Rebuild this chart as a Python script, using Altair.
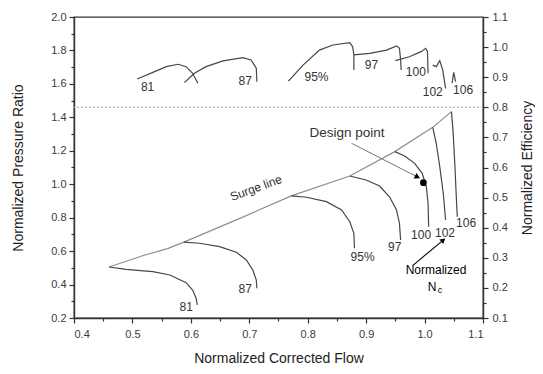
import altair as alt
import pandas as pd

# ---------------- data ----------------
speed_names = ["81", "87", "95%", "97", "100", "102", "106"]

# pressure-ratio speed lines (left axis)
pr_flow = [
    [0.460, 0.489, 0.535, 0.564, 0.592, 0.603, 0.609, 0.611],
    [0.588, 0.615, 0.649, 0.678, 0.695, 0.706, 0.712, 0.713],
    [0.772, 0.798, 0.832, 0.858, 0.872, 0.879, 0.880],
    [0.872, 0.900, 0.923, 0.940, 0.952, 0.957, 0.959],
    [0.949, 0.966, 0.983, 0.996, 1.003, 1.006, 1.007],
    [1.014, 1.020, 1.026, 1.032, 1.036],
    [1.046, 1.049, 1.052, 1.054, 1.056],
]
pr_vals = [
    [0.505, 0.491, 0.477, 0.457, 0.411, 0.367, 0.318, 0.278],
    [0.654, 0.647, 0.627, 0.593, 0.547, 0.487, 0.427, 0.378],
    [0.930, 0.922, 0.896, 0.846, 0.776, 0.706, 0.617],
    [1.049, 1.025, 0.989, 0.925, 0.846, 0.766, 0.666],
    [1.195, 1.169, 1.125, 1.065, 0.985, 0.886, 0.746],
    [1.340, 1.245, 1.105, 0.946, 0.786],
    [1.434, 1.304, 1.105, 0.946, 0.806],
]
pr_label_flow = [0.592, 0.693, 0.894, 0.949, 0.994, 1.035, 1.071]
pr_label_val = [0.264, 0.373, 0.567, 0.627, 0.696, 0.706, 0.766]

surge_flow = [0.460, 0.520, 0.560, 0.588, 0.680, 0.772, 0.872, 0.949, 1.014, 1.046]
surge_pr = [0.505, 0.575, 0.615, 0.654, 0.790, 0.930, 1.049, 1.195, 1.340, 1.434]

# efficiency lines (right axis)
eff_flow = [
    [0.508, 0.535, 0.558, 0.578, 0.592, 0.603, 0.612],
    [0.589, 0.606, 0.626, 0.655, 0.689, 0.703, 0.712, 0.713],
    [0.767, 0.792, 0.820, 0.843, 0.872, 0.877, 0.879, 0.879],
    [0.879, 0.906, 0.935, 0.952, 0.957, 0.959, 0.960],
    [0.950, 0.974, 0.994, 1.002, 1.005, 1.006],
    [1.014, 1.020, 1.026, 1.031, 1.036],
    [1.047, 1.050, 1.053],
]
eff_vals = [
    [0.894, 0.916, 0.935, 0.943, 0.935, 0.913, 0.880],
    [0.882, 0.913, 0.935, 0.954, 0.965, 0.957, 0.930, 0.885],
    [0.887, 0.940, 0.990, 1.007, 1.015, 1.001, 0.974, 0.924],
    [0.974, 0.979, 0.990, 1.004, 0.996, 0.957, 0.924],
    [0.955, 0.968, 0.985, 0.996, 0.985, 0.913],
    [0.940, 0.935, 0.955, 0.924, 0.863],
    [0.880, 0.916, 0.885],
]
eff_label_flow = [0.526, 0.693, 0.815, 0.909, 0.985, 1.014, 1.066]
eff_label_val = [0.868, 0.888, 0.902, 0.940, 0.918, 0.852, 0.857]

efficiency_ref = 0.8          # dotted reference line (right axis)
design_flow, design_pr = 0.998, 1.009
design_arrow_flow = [0.875, 0.988]
design_arrow_pr = [1.245, 1.043]
nc_arrow_flow = [0.980, 1.032]
nc_arrow_pr = [0.515, 0.666]

x_major = [round(0.4 + 0.1 * i, 1) for i in range(8)]
x_minor = [round(0.45 + 0.1 * i, 2) for i in range(7)]
yl_major = [round(0.2 + 0.2 * i, 1) for i in range(10)]
yl_minor = [round(0.3 + 0.2 * i, 1) for i in range(9)]
yr_major = [round(0.1 + 0.1 * i, 1) for i in range(11)]
yr_minor = [round(0.15 + 0.1 * i, 2) for i in range(10)]

# ---------------- tables ----------------
def lines_df(flows, vals, names):
    rows = []
    for name, fs, vs in zip(names, flows, vals):
        for i, (f, v) in enumerate(zip(fs, vs)):
            rows.append({"line": name, "flow": f, "val": v, "ord": i})
    return pd.DataFrame(rows)

pr_df = lines_df(pr_flow, pr_vals, speed_names)
eff_df = lines_df(eff_flow, eff_vals, speed_names)
surge_df = pd.DataFrame({"flow": surge_flow, "val": surge_pr, "ord": range(len(surge_flow))})
pr_lab = pd.DataFrame({"t": speed_names, "flow": pr_label_flow, "val": pr_label_val})
eff_lab = pd.DataFrame({"t": speed_names, "flow": eff_label_flow, "val": eff_label_val})
design_df = pd.DataFrame({"flow": [design_flow], "val": [design_pr]})
darrow = pd.DataFrame({"flow": design_arrow_flow, "val": design_arrow_pr, "ord": [0, 1]})
narrow = pd.DataFrame({"flow": nc_arrow_flow, "val": nc_arrow_pr, "ord": [0, 1]})

FONT = "Liberation Sans"
LINE = "#464646"

xs = alt.Scale(domain=[0.4, 1.1], nice=False, zero=False)
yls = alt.Scale(domain=[0.2, 2.0], nice=False, zero=False)
yrs = alt.Scale(domain=[0.1, 1.1], nice=False, zero=False)

x_axis = alt.Axis(values=x_major, format=".1f", title="Normalized Corrected Flow", grid=False,
                  tickSize=5, labelPadding=5, titleY=40, titleBaseline="middle", orient="bottom")
yl_axis = alt.Axis(values=yl_major, format=".1f", title="Normalized Pressure Ratio", grid=False,
                   orient="left", tickSize=5, labelPadding=3, titleX=-56, titleBaseline="middle",
                   titleAngle=270)
yr_axis = alt.Axis(values=yr_major, format=".1f", title="Normalized Efficiency", grid=False,
                   orient="right", tickSize=5, labelPadding=4, titleX=44, titleBaseline="middle",
                   titleAngle=270)

def minor(vals, orient):
    return alt.Axis(values=vals, labels=False, title=None, grid=False, domain=False,
                    tickSize=3, orient=orient)

X = lambda ax=None: alt.X("flow:Q", scale=xs, axis=ax)
YL = lambda ax=None: alt.Y("val:Q", scale=yls, axis=ax)
YR = lambda ax=None: alt.Y("val:Q", scale=yrs, axis=ax)

surge = alt.Chart(surge_df).mark_line(color="#8f8f8f", strokeWidth=1.2).encode(
    x=X(x_axis), y=YL(yl_axis), order="ord:Q")
effs = alt.Chart(eff_df).mark_line(color=LINE, strokeWidth=1.2).encode(
    x=X(), y=YR(yr_axis), detail="line:N", order="ord:Q")
minor_x = alt.Chart(design_df).mark_point(opacity=0).encode(x=X(minor(x_minor, "bottom")), y=YL())
minor_yl = alt.Chart(design_df).mark_point(opacity=0).encode(x=X(), y=YL(minor(yl_minor, "left")))
minor_yr = alt.Chart(design_df).mark_point(opacity=0).encode(x=X(), y=YR(minor(yr_minor, "right")))

speeds = alt.Chart(pr_df).mark_line(color=LINE, strokeWidth=1.2).encode(
    x=X(), y=YL(), detail="line:N", order="ord:Q")
pr_text = alt.Chart(pr_lab).mark_text(font=FONT, fontSize=12, color="#333").encode(
    x=X(), y=YL(), text="t:N")
dpoint = alt.Chart(design_df).mark_point(filled=True, color="black", size=45, opacity=1).encode(
    x=X(), y=YL())
dtext = alt.Chart(design_df).mark_text(font=FONT, fontSize=13.5, color="#333", text="Design point").encode(
    x=alt.value(273), y=alt.value(116))
darr = alt.Chart(darrow).mark_line(color="#777", strokeWidth=1).encode(
    x=X(), y=YL(), order="ord:Q")
dhead = alt.Chart(darrow.iloc[[1]]).mark_point(shape="triangle-right", filled=True, color="black",
                                                size=40, angle=27, opacity=1).encode(x=X(), y=YL())
narr = alt.Chart(narrow).mark_line(color="black", strokeWidth=1.1).encode(
    x=X(), y=YL(), order="ord:Q")
nhead = alt.Chart(narrow.iloc[[1]]).mark_point(shape="triangle-right", filled=True, color="black",
                                                size=35, angle=320, opacity=1).encode(x=X(), y=YL())
ntext = alt.Chart(design_df).mark_text(font=FONT, fontSize=12, color="black", text="Normalized").encode(
    x=alt.value(362), y=alt.value(253))
ntext2 = alt.Chart(design_df).mark_text(font=FONT, fontSize=12, color="black", text="N").encode(
    x=alt.value(358), y=alt.value(270))
ntext3 = alt.Chart(design_df).mark_text(font=FONT, fontSize=9, color="black", text="c").encode(
    x=alt.value(366), y=alt.value(273))
stext = alt.Chart(design_df).mark_text(font=FONT, fontSize=12, color="#333", text="Surge line",
                                        angle=340).encode(x=alt.value(182), y=alt.value(171))
eff_text = alt.Chart(eff_lab).mark_text(font=FONT, fontSize=12, color="#333").encode(
    x=X(), y=YR(), text="t:N")
ref = alt.Chart(design_df).mark_rule(color="#aaaaaa", strokeDash=[2, 2], strokeWidth=1).encode(
    y=alt.YDatum(efficiency_ref, scale=yrs, axis=None))

chart = alt.layer(
    surge, effs, minor_x, minor_yl, minor_yr,
    speeds, pr_text, darr, dhead, dpoint, dtext, narr, nhead,
    ntext, ntext2, ntext3, stext, eff_text, ref,
).resolve_scale(x="independent", y="independent").properties(
    width=409, height=301,
    autosize=alt.AutoSizeParams(type="none"),
    padding={"left": 66, "top": 9, "right": 52, "bottom": 48},
).configure_view(stroke="#333", strokeWidth=1.3).configure_axis(
    labelFont=FONT, titleFont=FONT, labelFontSize=11, titleFontSize=14,
    labelColor="#3a3a3a", titleColor="#222", titleFontWeight="normal",
    domainColor="#333", tickColor="#333", domainWidth=1.4, tickWidth=1.2,
)

chart.save("out.html", embed_options={"renderer": "svg", "actions": False})
